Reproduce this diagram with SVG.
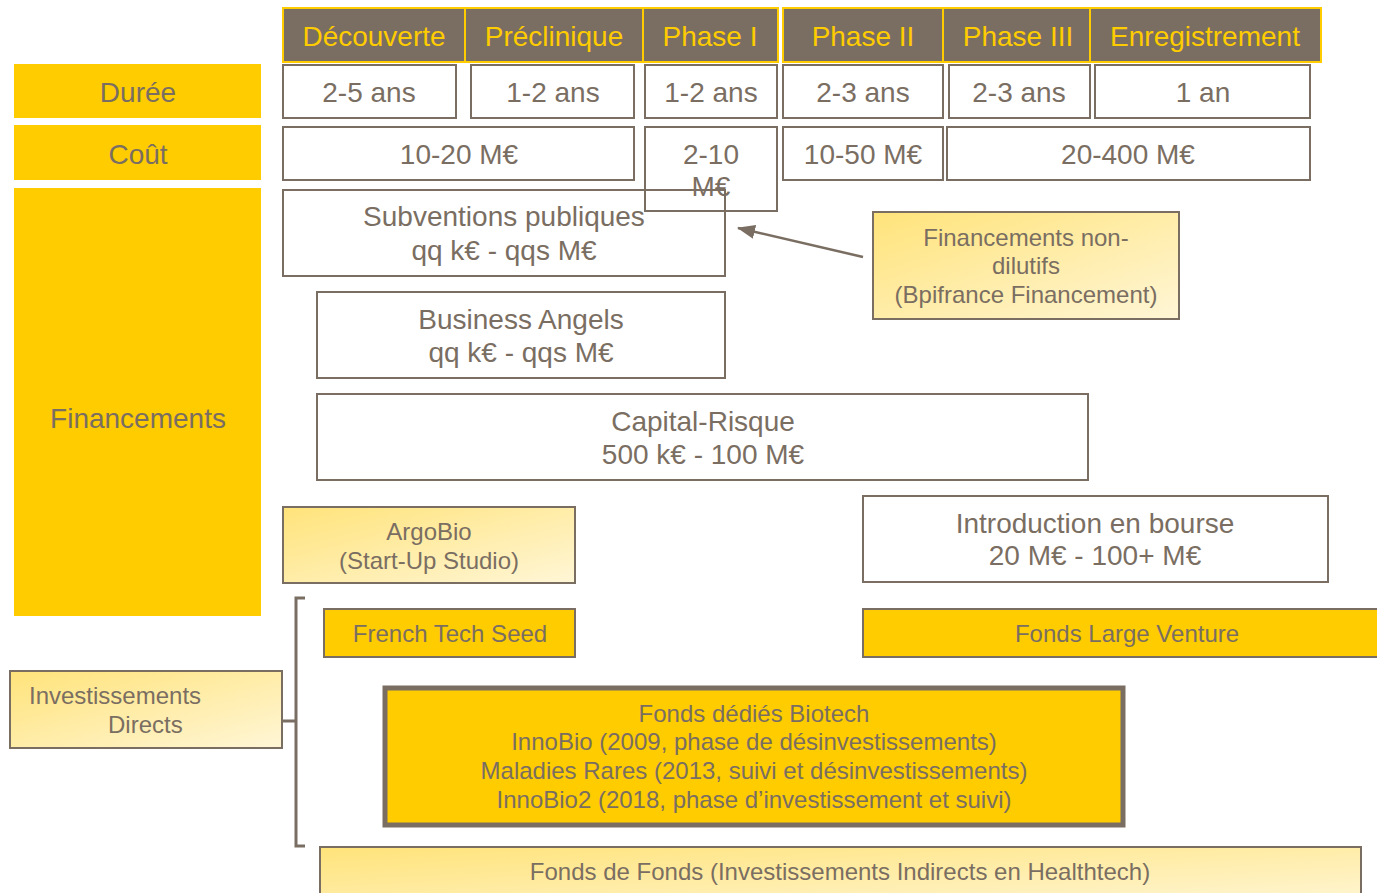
<svg xmlns="http://www.w3.org/2000/svg" width="1377" height="893" viewBox="0 0 1377 893">
<defs>
<linearGradient id="lg" x1="0" y1="0" x2="1" y2="1">
<stop offset="0" stop-color="#ffe37a"/>
<stop offset="1" stop-color="#fff6d6"/>
</linearGradient>
<marker id="ah" markerWidth="18" markerHeight="14" refX="17" refY="7" orient="auto" markerUnits="userSpaceOnUse" viewBox="0 0 18 14">
<path d="M0,0 L18,7 L0,14 z" fill="#7a6e62"/>
</marker>
<style>
text{font-family:"Liberation Sans",Arial,sans-serif;fill:#7a6e62;text-anchor:middle}
.hd rect{fill:#7a6e62;stroke:#ffcc00;stroke-width:2}
.hd text{fill:#ffcc00;font-size:28px}
.lab rect{fill:#ffcc00;stroke:none}
.lab text{font-size:28px}
.w rect{fill:#fff;stroke:#7a6e62;stroke-width:2}
.w text{font-size:28px}
.g rect{fill:url(#lg);stroke:#7a6e62;stroke-width:2}
.g text{font-size:24px}
.y rect{fill:#ffcc00;stroke:#7a6e62;stroke-width:2}
.y text{font-size:24px}
.con{fill:none;stroke:#7a6e62;stroke-width:3}
</style>
</defs>
<rect width="1377" height="893" fill="#fff"/>

<g id="header" class="hd">
<rect x="283" y="8" width="182" height="54"/><text x="374" y="46">Découverte</text>
<rect x="465" y="8" width="178" height="54"/><text x="554" y="46">Préclinique</text>
<rect x="643" y="8" width="135" height="54"/><text x="710" y="46">Phase I</text>
<rect x="783" y="8" width="160" height="54"/><text x="863" y="46">Phase II</text>
<rect x="943" y="8" width="147" height="54"/><text x="1018" y="46">Phase III</text>
<rect x="1090" y="8" width="231" height="54"/><text x="1205" y="46">Enregistrement</text>
</g>

<g id="label-duree" class="lab"><rect x="14" y="64" width="247" height="54"/><text x="138" y="102">Durée</text></g>
<g id="label-cout" class="lab"><rect x="14" y="125" width="247" height="55"/><text x="138" y="164">Coût</text></g>
<g id="label-financements" class="lab"><rect x="14" y="188" width="247" height="428"/><text x="138" y="428">Financements</text></g>

<g id="duree" class="w">
<rect x="283" y="65" width="173" height="53"/><text x="369" y="102">2-5 ans</text>
<rect x="471" y="65" width="163" height="53"/><text x="553" y="102">1-2 ans</text>
<rect x="645" y="65" width="132" height="53"/><text x="711" y="102">1-2 ans</text>
<rect x="783" y="65" width="160" height="53"/><text x="863" y="102">2-3 ans</text>
<rect x="949" y="65" width="141" height="53"/><text x="1019" y="102">2-3 ans</text>
<rect x="1095" y="65" width="215" height="53"/><text x="1203" y="102">1 an</text>
</g>

<g id="cout" class="w">
<rect x="283" y="127" width="351" height="53"/><text x="459" y="164">10-20 M€</text>
<rect x="645" y="127" width="132" height="84" style="fill:none"/><text x="711" y="164">2-10</text><text x="711" y="196">M€</text>
<rect x="783" y="127" width="160" height="53"/><text x="863" y="164">10-50 M€</text>
<rect x="947" y="127" width="363" height="53"/><text x="1128" y="164">20-400 M€</text>
</g>

<g id="subventions" class="w"><rect x="283" y="190" width="442" height="86" style="fill:none"/><text x="504" y="226">Subventions publiques</text><text x="504" y="260">qq k€ - qqs M€</text></g>
<g id="business-angels" class="w"><rect x="317" y="292" width="408" height="86"/><text x="521" y="329">Business Angels</text><text x="521" y="362">qq k€ - qqs M€</text></g>
<g id="capital-risque" class="w"><rect x="317" y="394" width="771" height="86"/><text x="703" y="431">Capital-Risque</text><text x="703" y="464">500 k€ - 100 M€</text></g>
<g id="bourse" class="w"><rect x="863" y="496" width="465" height="86"/><text x="1095" y="533">Introduction en bourse</text><text x="1095" y="565">20 M€ - 100+ M€</text></g>

<g id="non-dilutifs" class="g"><rect x="873" y="212" width="306" height="107"/><text x="1026" y="246">Financements non-</text><text x="1026" y="274">dilutifs</text><text x="1026" y="303">(Bpifrance Financement)</text></g>
<g id="argobio" class="g"><rect x="283" y="507" width="292" height="76"/><text x="429" y="540">ArgoBio</text><text x="429" y="569">(Start-Up Studio)</text></g>
<g id="investissements-directs" class="g"><rect x="10" y="671" width="272" height="77"/><text x="29" y="704" style="text-anchor:start">Investissements</text><text x="108" y="733" style="text-anchor:start">Directs</text></g>
<g id="fonds-de-fonds" class="g"><rect x="320" y="847" width="1041" height="60"/><text x="840" y="880">Fonds de Fonds (Investissements Indirects en Healthtech)</text></g>

<g id="french-tech-seed" class="y"><rect x="324" y="609" width="251" height="48"/><text x="450" y="642">French Tech Seed</text></g>
<g id="large-venture" class="y"><rect x="863" y="609" width="530" height="48"/><text x="1127" y="642">Fonds Large Venture</text></g>
<g id="biotech" class="y"><rect x="385" y="688" width="738" height="137" style="stroke-width:5"/><text x="754" y="722">Fonds dédiés Biotech</text><text x="754" y="750">InnoBio (2009, phase de désinvestissements)</text><text x="754" y="779">Maladies Rares (2013, suivi et désinvestissements)</text><text x="754" y="808">InnoBio2 (2018, phase d’investissement et suivi)</text></g>

<g id="connectors">
<line class="con" x1="863" y1="257" x2="738" y2="228" style="stroke-width:2.5" marker-end="url(#ah)"/>
<path class="con" d="M305,598 H296 V846 H305 M283,721 H296"/>
</g>
</svg>
